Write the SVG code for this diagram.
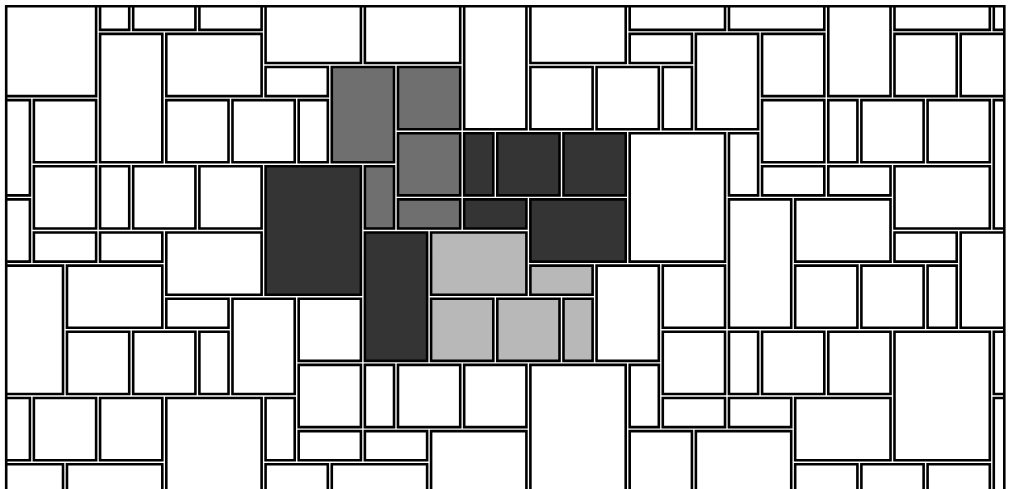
<svg xmlns="http://www.w3.org/2000/svg" width="1011" height="489" viewBox="0 0 1011 489">
<style>
rect.t{stroke:#000;stroke-width:2.6;vector-effect:non-scaling-stroke;fill:#fff}
rect.m{fill:#6f6f6f}
rect.d{fill:#343434}
rect.l{fill:#b8b8b8}
</style>
<defs>
<clipPath id="frameclip"><rect x="6.2" y="6.2" width="998.1" height="490"/></clipPath>
</defs>
<rect x="0" y="0" width="1011" height="489" fill="#fff"/>
<g id="tiles" clip-path="url(#frameclip)">
<g transform="translate(-1.2,-1.2) scale(33.1)">
<rect class="t" x="0.06" y="0.06" width="2.88" height="2.88"/>
<rect class="t" x="3.06" y="0.06" width="0.88" height="0.88"/>
<rect class="t" x="4.06" y="0.06" width="1.88" height="0.88"/>
<rect class="t" x="6.06" y="0.06" width="1.88" height="0.88"/>
<rect class="t" x="8.06" y="0.06" width="2.88" height="1.88"/>
<rect class="t" x="11.06" y="0.06" width="2.88" height="1.88"/>
<rect class="t" x="14.06" y="0.06" width="1.88" height="3.88"/>
<rect class="t" x="16.06" y="0.06" width="2.88" height="1.88"/>
<rect class="t" x="19.06" y="0.06" width="2.88" height="0.88"/>
<rect class="t" x="22.06" y="0.06" width="2.88" height="0.88"/>
<rect class="t" x="25.06" y="0.06" width="1.88" height="2.88"/>
<rect class="t" x="27.06" y="0.06" width="2.88" height="0.88"/>
<rect class="t" x="30.06" y="0.06" width="0.88" height="0.88"/>
<rect class="t" x="3.06" y="1.06" width="1.88" height="3.88"/>
<rect class="t" x="5.06" y="1.06" width="2.88" height="1.88"/>
<rect class="t" x="19.06" y="1.06" width="1.88" height="0.88"/>
<rect class="t" x="21.06" y="1.06" width="1.88" height="2.88"/>
<rect class="t" x="23.06" y="1.06" width="1.88" height="1.88"/>
<rect class="t" x="27.06" y="1.06" width="1.88" height="1.88"/>
<rect class="t" x="29.06" y="1.06" width="1.88" height="1.88"/>
<rect class="t" x="8.06" y="2.06" width="1.88" height="0.88"/>
<rect class="t m" x="10.06" y="2.06" width="1.88" height="2.88"/>
<rect class="t m" x="12.06" y="2.06" width="1.88" height="1.88"/>
<rect class="t" x="16.06" y="2.06" width="1.88" height="1.88"/>
<rect class="t" x="18.06" y="2.06" width="1.88" height="1.88"/>
<rect class="t" x="20.06" y="2.06" width="0.88" height="1.88"/>
<rect class="t" x="0.06" y="3.06" width="0.88" height="2.88"/>
<rect class="t" x="1.06" y="3.06" width="1.88" height="1.88"/>
<rect class="t" x="5.06" y="3.06" width="1.88" height="1.88"/>
<rect class="t" x="7.06" y="3.06" width="1.88" height="1.88"/>
<rect class="t" x="9.06" y="3.06" width="0.88" height="1.88"/>
<rect class="t" x="23.06" y="3.06" width="1.88" height="1.88"/>
<rect class="t" x="25.06" y="3.06" width="0.88" height="1.88"/>
<rect class="t" x="26.06" y="3.06" width="1.88" height="1.88"/>
<rect class="t" x="28.06" y="3.06" width="1.88" height="1.88"/>
<rect class="t" x="30.06" y="3.06" width="0.88" height="3.88"/>
<rect class="t m" x="12.06" y="4.06" width="1.88" height="1.88"/>
<rect class="t d" x="14.06" y="4.06" width="0.88" height="1.88"/>
<rect class="t d" x="15.06" y="4.06" width="1.88" height="1.88"/>
<rect class="t d" x="17.06" y="4.06" width="1.88" height="1.88"/>
<rect class="t" x="19.06" y="4.06" width="2.88" height="3.88"/>
<rect class="t" x="22.06" y="4.06" width="0.88" height="1.88"/>
<rect class="t" x="1.06" y="5.06" width="1.88" height="1.88"/>
<rect class="t" x="3.06" y="5.06" width="0.88" height="1.88"/>
<rect class="t" x="4.06" y="5.06" width="1.88" height="1.88"/>
<rect class="t" x="6.06" y="5.06" width="1.88" height="1.88"/>
<rect class="t d" x="8.06" y="5.06" width="2.88" height="3.88"/>
<rect class="t m" x="11.06" y="5.06" width="0.88" height="1.88"/>
<rect class="t" x="23.06" y="5.06" width="1.88" height="0.88"/>
<rect class="t" x="25.06" y="5.06" width="1.88" height="0.88"/>
<rect class="t" x="27.06" y="5.06" width="2.88" height="1.88"/>
<rect class="t" x="0.06" y="6.06" width="0.88" height="1.88"/>
<rect class="t m" x="12.06" y="6.06" width="1.88" height="0.88"/>
<rect class="t d" x="14.06" y="6.06" width="1.88" height="0.88"/>
<rect class="t d" x="16.06" y="6.06" width="2.88" height="1.88"/>
<rect class="t" x="22.06" y="6.06" width="1.88" height="3.88"/>
<rect class="t" x="24.06" y="6.06" width="2.88" height="1.88"/>
<rect class="t" x="1.06" y="7.06" width="1.88" height="0.88"/>
<rect class="t" x="3.06" y="7.06" width="1.88" height="0.88"/>
<rect class="t" x="5.06" y="7.06" width="2.88" height="1.88"/>
<rect class="t d" x="11.06" y="7.06" width="1.88" height="3.88"/>
<rect class="t l" x="13.06" y="7.06" width="2.88" height="1.88"/>
<rect class="t" x="27.06" y="7.06" width="1.88" height="0.88"/>
<rect class="t" x="29.06" y="7.06" width="1.88" height="2.88"/>
<rect class="t" x="0.06" y="8.06" width="1.88" height="3.88"/>
<rect class="t" x="2.06" y="8.06" width="2.88" height="1.88"/>
<rect class="t l" x="16.06" y="8.06" width="1.88" height="0.88"/>
<rect class="t" x="18.06" y="8.06" width="1.88" height="2.88"/>
<rect class="t" x="20.06" y="8.06" width="1.88" height="1.88"/>
<rect class="t" x="24.06" y="8.06" width="1.88" height="1.88"/>
<rect class="t" x="26.06" y="8.06" width="1.88" height="1.88"/>
<rect class="t" x="28.06" y="8.06" width="0.88" height="1.88"/>
<rect class="t" x="5.06" y="9.06" width="1.88" height="0.88"/>
<rect class="t" x="7.06" y="9.06" width="1.88" height="2.88"/>
<rect class="t" x="9.06" y="9.06" width="1.88" height="1.88"/>
<rect class="t l" x="13.06" y="9.06" width="1.88" height="1.88"/>
<rect class="t l" x="15.06" y="9.06" width="1.88" height="1.88"/>
<rect class="t l" x="17.06" y="9.06" width="0.88" height="1.88"/>
<rect class="t" x="2.06" y="10.06" width="1.88" height="1.88"/>
<rect class="t" x="4.06" y="10.06" width="1.88" height="1.88"/>
<rect class="t" x="6.06" y="10.06" width="0.88" height="1.88"/>
<rect class="t" x="20.06" y="10.06" width="1.88" height="1.88"/>
<rect class="t" x="22.06" y="10.06" width="0.88" height="1.88"/>
<rect class="t" x="23.06" y="10.06" width="1.88" height="1.88"/>
<rect class="t" x="25.06" y="10.06" width="1.88" height="1.88"/>
<rect class="t" x="27.06" y="10.06" width="2.88" height="3.88"/>
<rect class="t" x="30.06" y="10.06" width="0.88" height="1.88"/>
<rect class="t" x="9.06" y="11.06" width="1.88" height="1.88"/>
<rect class="t" x="11.06" y="11.06" width="0.88" height="1.88"/>
<rect class="t" x="12.06" y="11.06" width="1.88" height="1.88"/>
<rect class="t" x="14.06" y="11.06" width="1.88" height="1.88"/>
<rect class="t" x="16.06" y="11.06" width="2.88" height="3.88"/>
<rect class="t" x="19.06" y="11.06" width="0.88" height="1.88"/>
<rect class="t" x="0.06" y="12.06" width="0.88" height="1.88"/>
<rect class="t" x="1.06" y="12.06" width="1.88" height="1.88"/>
<rect class="t" x="3.06" y="12.06" width="1.88" height="1.88"/>
<rect class="t" x="5.06" y="12.06" width="2.88" height="2.88"/>
<rect class="t" x="8.06" y="12.06" width="0.88" height="1.88"/>
<rect class="t" x="20.06" y="12.06" width="1.88" height="0.88"/>
<rect class="t" x="22.06" y="12.06" width="1.88" height="0.88"/>
<rect class="t" x="24.06" y="12.06" width="2.88" height="1.88"/>
<rect class="t" x="30.06" y="12.06" width="0.88" height="2.88"/>
<rect class="t" x="9.06" y="13.06" width="1.88" height="0.88"/>
<rect class="t" x="11.06" y="13.06" width="1.88" height="0.88"/>
<rect class="t" x="13.06" y="13.06" width="2.88" height="1.88"/>
<rect class="t" x="19.06" y="13.06" width="1.88" height="1.88"/>
<rect class="t" x="21.06" y="13.06" width="2.88" height="1.88"/>
<rect class="t" x="0.06" y="14.06" width="1.88" height="0.88"/>
<rect class="t" x="2.06" y="14.06" width="2.88" height="0.88"/>
<rect class="t" x="8.06" y="14.06" width="1.88" height="0.88"/>
<rect class="t" x="10.06" y="14.06" width="2.88" height="0.88"/>
<rect class="t" x="24.06" y="14.06" width="1.88" height="0.88"/>
<rect class="t" x="26.06" y="14.06" width="1.88" height="0.88"/>
<rect class="t" x="28.06" y="14.06" width="1.88" height="0.88"/>
</g>
</g>
<path id="frame" d="M6.2,495 V6.2 H1004.3 V495" fill="none" stroke="#000" stroke-width="2.6"/>
</svg>
